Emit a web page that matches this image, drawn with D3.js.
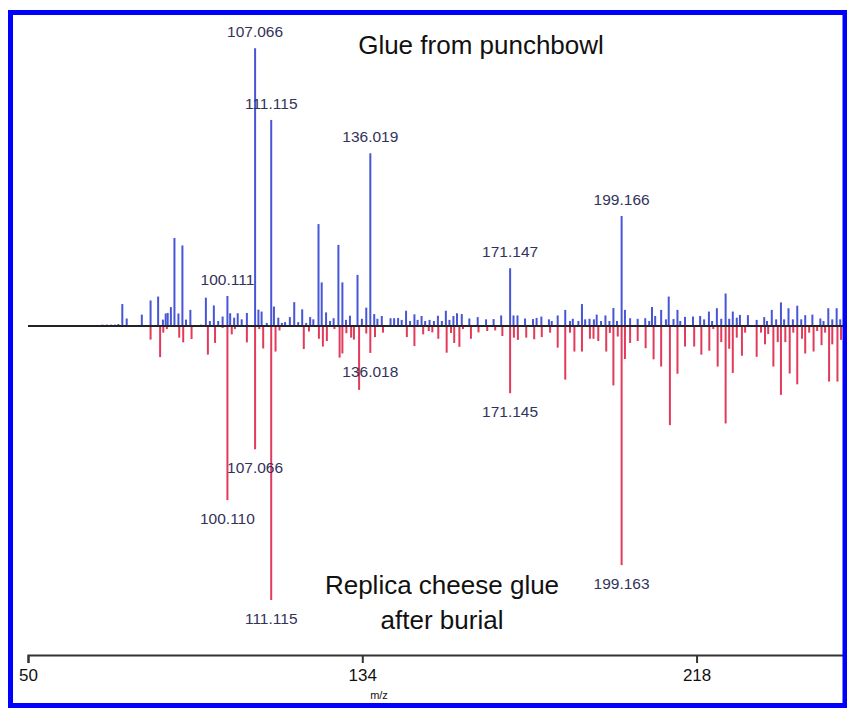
<!DOCTYPE html>
<html>
<head>
<meta charset="utf-8">
<script src="https://cdn.jsdelivr.net/npm/d3@7"></script>
<style>
  html, body { margin: 0; padding: 0; background: #fff; }
  svg { display: block; }
</style>
</head>
<body>
<svg id="chart" width="847" height="708"></svg>
<script>
// Mirror mass spectrum: upper trace (blue) vs lower trace (red), [m/z, relative intensity %]
const upperSpectrum = [
  [68.7,0.5],[69.8,0.5],[70.9,0.5],[71.9,0.5],[72.7,0.7],[73.7,7.9],[74.8,2.7],[78.6,4.1],
  [80.8,9.2],[82.7,10.6],[83.9,2.3],[84.6,4.5],[85.1,4.7],[85.9,6.8],[86.8,31.7],[87.8,4.5],
  [88.8,29.0],[89.7,2.3],[90.8,5.8],[93.5,0.5],[94.7,10.2],[95.7,1.8],[96.7,7.4],[97.8,1.8],
  [98.9,3.4],[100.111,10.8],[100.8,4.6],[101.8,3.0],[102.7,4.6],[103.7,2.4],[105.0,4.7],
  [107.066,100],[107.9,5.9],[108.7,5.2],[110.0,1.1],[111.115,74.2],[111.8,7.0],[112.9,3.0],
  [113.8,1.1],[114.6,1.4],[115.8,3.2],[116.9,8.6],[117.9,1.4],[118.9,6.0],[119.9,1.1],
  [120.9,3.2],[121.7,2.4],[123.0,36.7],[123.8,15.7],[124.9,4.9],[125.9,1.8],[126.8,2.8],
  [128.0,29.2],[129.0,15.7],[129.9,2.2],[130.9,3.7],[132.8,18.4],[133.9,2.6],[135.0,6.6],
  [136.019,62.2],[137.0,4.3],[137.8,2.6],[138.9,3.6],[141.1,2.8],[142.0,2.8],[143.0,2.9],
  [143.9,2.2],[145.0,5.5],[146.0,1.8],[147.1,4.2],[147.9,2.2],[148.9,3.6],[149.8,1.8],
  [150.9,2.2],[152.0,1.8],[153.0,3.7],[154.0,1.8],[155.0,5.5],[155.9,2.2],[156.9,3.6],
  [157.8,4.6],[159.0,4.3],[160.9,2.7],[163.0,3.2],[165.1,2.4],[167.0,2.5],[168.9,3.8],
  [171.147,20.8],[172.0,3.8],[173.0,3.8],[174.9,2.7],[176.9,2.5],[177.8,2.9],[179.0,3.4],
  [180.9,2.4],[181.6,1.8],[183.1,3.8],[185.0,5.8],[186.2,1.8],[186.9,2.6],[188.3,1.8],
  [189.2,7.9],[190.0,2.4],[191.1,2.6],[192.2,2.4],[192.9,4.1],[194.0,1.8],[195.1,3.8],
  [196.1,1.8],[197.1,6.5],[198.0,1.8],[199.166,39.6],[200.0,5.8],[201.3,2.8],[203.2,2.6],
  [205.1,2.8],[206.1,1.8],[206.8,6.8],[207.6,3.6],[209.1,5.8],[210.3,2.4],[211.0,10.6],
  [212.2,2.5],[213.2,5.8],[213.9,1.8],[215.1,3.3],[217.1,3.4],[218.9,3.6],[219.9,2.4],
  [221.1,5.2],[221.9,1.8],[223.1,6.4],[224.2,2.6],[225.3,11.7],[226.2,2.6],[227.1,5.2],
  [228.1,3.0],[228.9,4.0],[230.9,3.9],[233.1,2.2],[235.0,3.2],[235.7,1.8],[236.9,5.8],
  [238.0,2.4],[239.2,8.5],[240.0,2.4],[241.1,6.4],[242.2,2.4],[243.3,7.3],[244.3,2.4],
  [245.3,3.9],[247.1,4.1],[249.1,2.7],[249.9,1.8],[251.1,6.4],[252.1,2.4],[253.2,6.4],
  [254.1,2.4],[255.3,6.4]
];

const lowerSpectrum = [
  [80.8,4.9],[83.2,11.2],[84.0,2.4],[84.9,1.1],[88.0,4.2],[89.0,5.9],[91.1,4.7],[95.2,10.3],
  [97.0,6.1],[98.9,0.7],[100.110,62.7],[101.2,3.0],[102.0,1.1],[105.0,5.9],[107.066,44.4],
  [108.1,1.1],[109.1,8.1],[111.115,98.7],[112.2,9.2],[113.2,1.6],[119.3,8.3],[120.6,2.0],
  [123.1,4.6],[124.1,7.4],[125.1,5.4],[127.0,1.1],[128.3,11.4],[129.0,9.9],[130.0,2.6],
  [131.2,4.2],[131.9,4.9],[133.2,23.0],[135.0,2.7],[136.018,9.7],[137.2,4.0],[139.2,2.4],
  [145.2,4.0],[147.1,7.2],[149.3,3.0],[150.7,1.8],[151.6,2.3],[153.1,4.6],[155.2,9.6],
  [156.3,2.5],[157.1,6.1],[158.4,7.5],[159.3,1.1],[161.3,4.6],[163.2,2.3],[165.4,1.8],
  [167.4,1.6],[169.2,3.6],[171.145,24.2],[172.1,4.2],[173.1,5.0],[175.2,4.2],[177.2,4.8],
  [179.1,4.0],[181.2,2.4],[183.1,7.8],[185.0,19.3],[186.2,2.4],[187.3,9.2],[189.2,9.2],
  [191.2,4.6],[192.1,4.6],[193.3,5.4],[195.3,9.2],[196.2,2.5],[197.1,21.4],[198.2,3.8],
  [199.163,86.1],[200.0,11.9],[201.3,6.1],[203.2,5.4],[205.2,8.0],[207.2,12.0],[209.1,14.6],
  [211.3,35.7],[213.2,17.2],[215.1,7.4],[217.4,7.4],[219.2,10.3],[221.2,8.9],[222.2,1.1],
  [223.3,14.6],[224.2,5.8],[225.3,35.1],[226.2,8.2],[227.1,16.9],[228.1,4.2],[229.4,10.7],
  [230.2,2.4],[233.1,11.1],[234.2,2.4],[235.2,6.6],[236.0,2.9],[237.3,14.6],[238.4,5.8],
  [239.2,24.8],[240.3,5.8],[241.4,17.1],[242.3,2.4],[243.3,21.0],[244.5,4.6],[245.3,9.9],
  [246.3,2.4],[247.4,9.2],[248.3,1.8],[249.4,6.9],[250.3,2.4],[251.3,20.0],[252.1,6.6],
  [253.4,20.0],[254.3,5.0],[255.3,17.3]
];

// Peaks annotated with their m/z
const upperLabelled = [100.111, 107.066, 111.115, 136.019, 171.147, 199.166];
const lowerLabelled = [100.110, 107.066, 111.115, 136.018, 171.145, 199.163];

const axisTicks = [50, 134, 218];
const upperTitle = ["Glue from punchbowl"];
const lowerTitle = ["Replica cheese glue", "after burial"];
const xAxisTitle = "m/z";

const W = 847, H = 708;
const baseY = 326;
const svg = d3.select("#chart");

svg.append("rect").attr("width", W).attr("height", H).attr("fill", "#fff");

const x = d3.scaleLinear().domain([50, 255.8]).range([28, 847]);
const y = d3.scaleLinear().domain([-100, 100]).range([baseY + 277.7, baseY - 277.7]);

const blue = "#4656d6", red = "#e23a5a", labelColor = "#33335a";

// upper trace sticks
svg.append("g").selectAll("line").data(upperSpectrum).join("line")
  .attr("x1", d => x(d[0])).attr("x2", d => x(d[0]))
  .attr("y1", y(0)).attr("y2", d => y(d[1]))
  .attr("stroke", blue).attr("stroke-width", 2);

// lower trace sticks (mirrored)
svg.append("g").selectAll("line").data(lowerSpectrum).join("line")
  .attr("x1", d => x(d[0])).attr("x2", d => x(d[0]))
  .attr("y1", y(0)).attr("y2", d => y(-d[1]))
  .attr("stroke", red).attr("stroke-width", 2);

// zero line
svg.append("line")
  .attr("x1", x(50)).attr("x2", W)
  .attr("y1", y(0)).attr("y2", y(0))
  .attr("stroke", "#222").attr("stroke-width", 2);

const labelFont = "'Liberation Sans', Arial, sans-serif";
const narrowFont = "'Liberation Sans Narrow', 'Arial Narrow', 'Liberation Sans', sans-serif";

// peak annotations
const upperLookup = new Map(upperSpectrum.map(d => [d[0], d[1]]));
const lowerLookup = new Map(lowerSpectrum.map(d => [d[0], d[1]]));

svg.append("g").selectAll("text").data(upperLabelled).join("text")
  .attr("x", d => x(d)).attr("y", d => y(upperLookup.get(d)) - 11)
  .attr("text-anchor", "middle")
  .attr("font-family", labelFont).attr("font-size", 15.5)
  .attr("fill", labelColor)
  .text(d => d.toFixed(3));

svg.append("g").selectAll("text").data(lowerLabelled).join("text")
  .attr("x", d => x(d)).attr("y", d => y(-lowerLookup.get(d)) + 24)
  .attr("text-anchor", "middle")
  .attr("font-family", labelFont).attr("font-size", 15.5)
  .attr("fill", labelColor)
  .text(d => d.toFixed(3));

// trace titles
svg.append("text").attr("x", 481).attr("y", 54)
  .attr("text-anchor", "middle").attr("font-family", labelFont)
  .attr("font-size", 26).attr("fill", "#111").text(upperTitle[0]);

svg.append("g").selectAll("text").data(lowerTitle).join("text")
  .attr("x", 442).attr("y", (d, i) => 594 + i * 35)
  .attr("text-anchor", "middle").attr("font-family", labelFont)
  .attr("font-size", 26).attr("fill", "#111").text(d => d);

// m/z axis
const axisY = 655;
const axis = d3.axisBottom(x).tickValues(axisTicks).tickSize(8).tickPadding(6).tickFormat(d3.format("d"));
const gAxis = svg.append("g").attr("transform", `translate(0,${axisY})`).call(axis);
gAxis.select(".domain").attr("stroke", "#333").attr("stroke-width", 2);
gAxis.selectAll(".tick line").attr("stroke", "#333").attr("stroke-width", 2);
gAxis.selectAll(".tick text")
  .attr("font-family", narrowFont)
  .attr("font-size", 17).attr("fill", "#111");

svg.append("text").attr("x", 379).attr("y", 699)
  .attr("text-anchor", "middle")
  .attr("font-family", narrowFont)
  .attr("font-size", 11).attr("fill", "#111").text(xAxisTitle);

// frame
svg.append("rect")
  .attr("x", 10.5).attr("y", 12.5).attr("width", 834.5).attr("height", 693)
  .attr("fill", "none").attr("stroke", "#0000ff").attr("stroke-width", 5);
</script>
</body>
</html>
